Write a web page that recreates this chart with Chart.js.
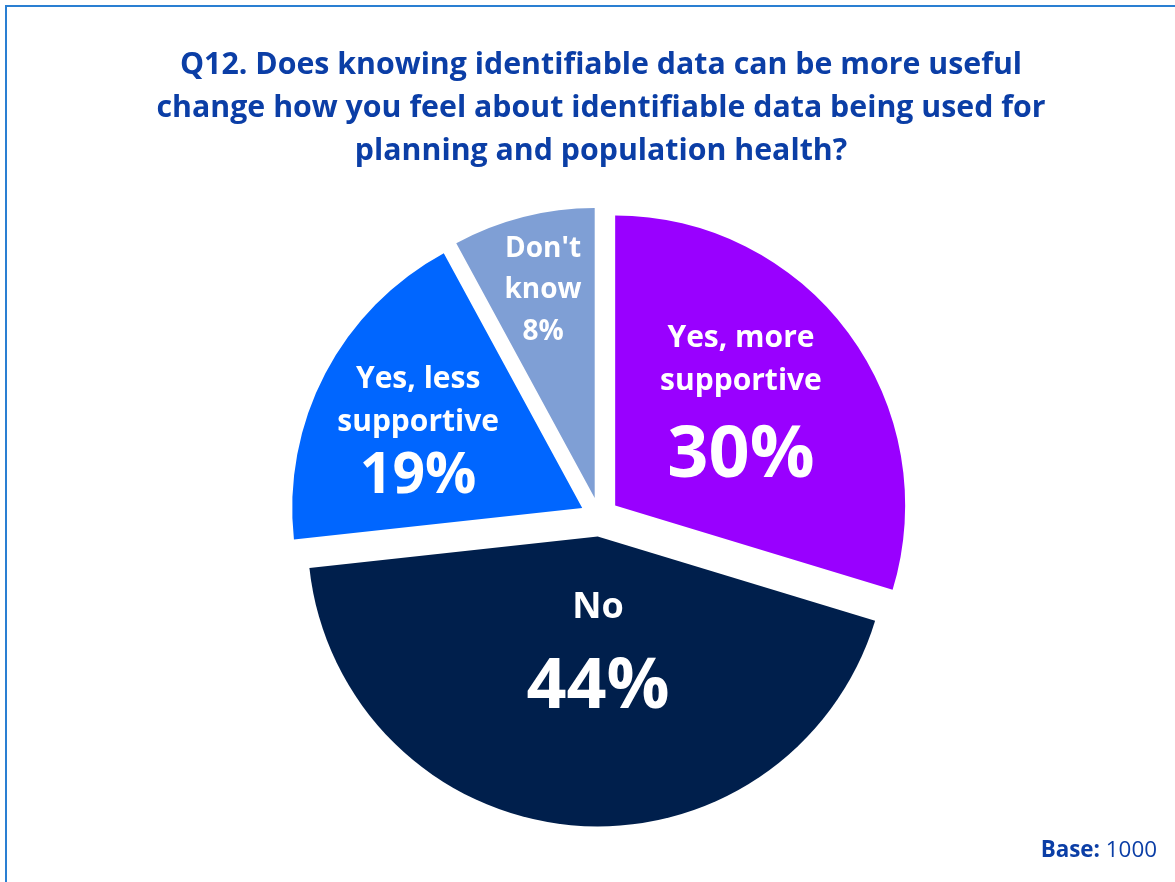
<!DOCTYPE html>
<html>
<head>
<meta charset="utf-8">
<script src="https://cdn.jsdelivr.net/npm/chart.js@4/dist/chart.umd.min.js"></script>
<style>
  html, body { margin: 0; padding: 0; background: #ffffff; width: 1175px; height: 882px; overflow: hidden; }
  #frame { position: absolute; left: 5px; top: 5px; width: 1300px; height: 1000px; border: 2px solid #2a7fd2; box-sizing: border-box; }
  #chart { position: absolute; left: 0; top: 0; }
  #title { position: absolute; left: 0; width: 1202px; top: 41px; text-align: center; color: #0b3ea6;
           font-family: "Open Sans", "Noto Sans", sans-serif; font-weight: 700; font-size: 30.3px; line-height: 43px; }
  #base { position: absolute; right: 18px; top: 833px; color: #0b3ea6; font-family: "Open Sans", "Noto Sans", sans-serif; font-size: 22.4px; }
  #base b { font-weight: 700; }
</style>
</head>
<body>
<div id="frame"></div>
<canvas id="chart" width="1175" height="882"></canvas>
<div id="title">Q12. Does knowing identifiable data can be more useful<br>change how you feel about identifiable data being used for<br>planning and population health?</div>
<div id="base"><b>Base:</b> 1000</div>
<script>
// Survey answers, clockwise from 12 o'clock
const categories = ["Yes, more supportive", "No", "Yes, less supportive", "Don't know"];
const percentages = [30, 44, 19, 8];
const sliceColors = ["#9900ff", "#001f4c", "#0066ff", "#7f9fd5"];

// Text written inside each slice: [text, font size] per line; the value line uses the percentage
const labelLines = [
  [["Yes, more", 30], ["supportive", 30]],
  [["No", 36]],
  [["Yes, less", 30], ["supportive", 30]],
  [["Don't", 28], ["know", 28]]
];
const valueFontSizes = [72, 70, 57, 28];

// Where each label block sits: fraction of radius along the slice middle, angle nudge (deg), line baselines
const labelPlacement = [
  { frac: 0.564, nudge: -3.2, baselines: [-54, -11, 76] },
  { frac: 0.392, nudge: -5.5, baselines: [-32, 58] },
  { frac: 0.626, nudge: -2.3, baselines: [-42, 1, 63] },
  { frac: 0.744, nudge: 0.4, baselines: [-31.5, 9.5, 51.5] }
];

// Distance (px) each slice is pulled out from the centre, same radius for every slice
const SLICE_SHIFT = 19.5;

function sliceMid(arc) {
  const p = arc.getProps(['x', 'y', 'startAngle', 'endAngle', 'outerRadius'], true);
  return { p, mid: (p.startAngle + p.endAngle) / 2 };
}

// Draws each arc element translated outwards along its bisector (exploded pie)
const explodedSlices = {
  id: 'explodedSlices',
  beforeDatasetDraw(chart, args) {
    const ctx = chart.ctx;
    args.meta.data.forEach(arc => {
      const { mid } = sliceMid(arc);
      ctx.save();
      ctx.translate(Math.cos(mid) * SLICE_SHIFT, Math.sin(mid) * SLICE_SHIFT);
      arc.draw(ctx);
      ctx.restore();
    });
    return false;
  }
};

const sliceLabels = {
  id: 'sliceLabels',
  afterDatasetsDraw(chart) {
    const ctx = chart.ctx;
    const meta = chart.getDatasetMeta(0);
    meta.data.forEach((arc, i) => {
      const { p, mid } = sliceMid(arc);
      const vx = p.x + Math.cos(mid) * SLICE_SHIFT;
      const vy = p.y + Math.sin(mid) * SLICE_SHIFT;
      const pl = labelPlacement[i];
      const a = mid + pl.nudge * Math.PI / 180;
      const ax = vx + Math.cos(a) * p.outerRadius * pl.frac;
      const ay = vy + Math.sin(a) * p.outerRadius * pl.frac;
      const lines = labelLines[i].concat([[percentages[i] + '%', valueFontSizes[i]]]);
      ctx.save();
      ctx.fillStyle = '#ffffff';
      ctx.textAlign = 'center';
      ctx.textBaseline = 'alphabetic';
      lines.forEach((ln, k) => {
        ctx.font = '700 ' + ln[1] + 'px "Open Sans", "Noto Sans", sans-serif';
        ctx.fillText(ln[0], ax, ay + pl.baselines[k]);
      });
      ctx.restore();
    });
  }
};

new Chart(document.getElementById('chart'), {
  type: 'pie',
  data: {
    labels: categories,
    datasets: [{
      data: percentages,
      backgroundColor: sliceColors,
      borderWidth: 0,
      offset: 0,
      hoverOffset: 0,
      radius: 290
    }]
  },
  options: {
    responsive: false,
    animation: false,
    devicePixelRatio: 1,
    events: [],
    layout: { padding: { top: 200, bottom: 48, left: 30, right: 6 } },
    plugins: { legend: { display: false }, tooltip: { enabled: false }, title: { display: false } }
  },
  plugins: [explodedSlices, sliceLabels]
});
</script>
</body>
</html>
